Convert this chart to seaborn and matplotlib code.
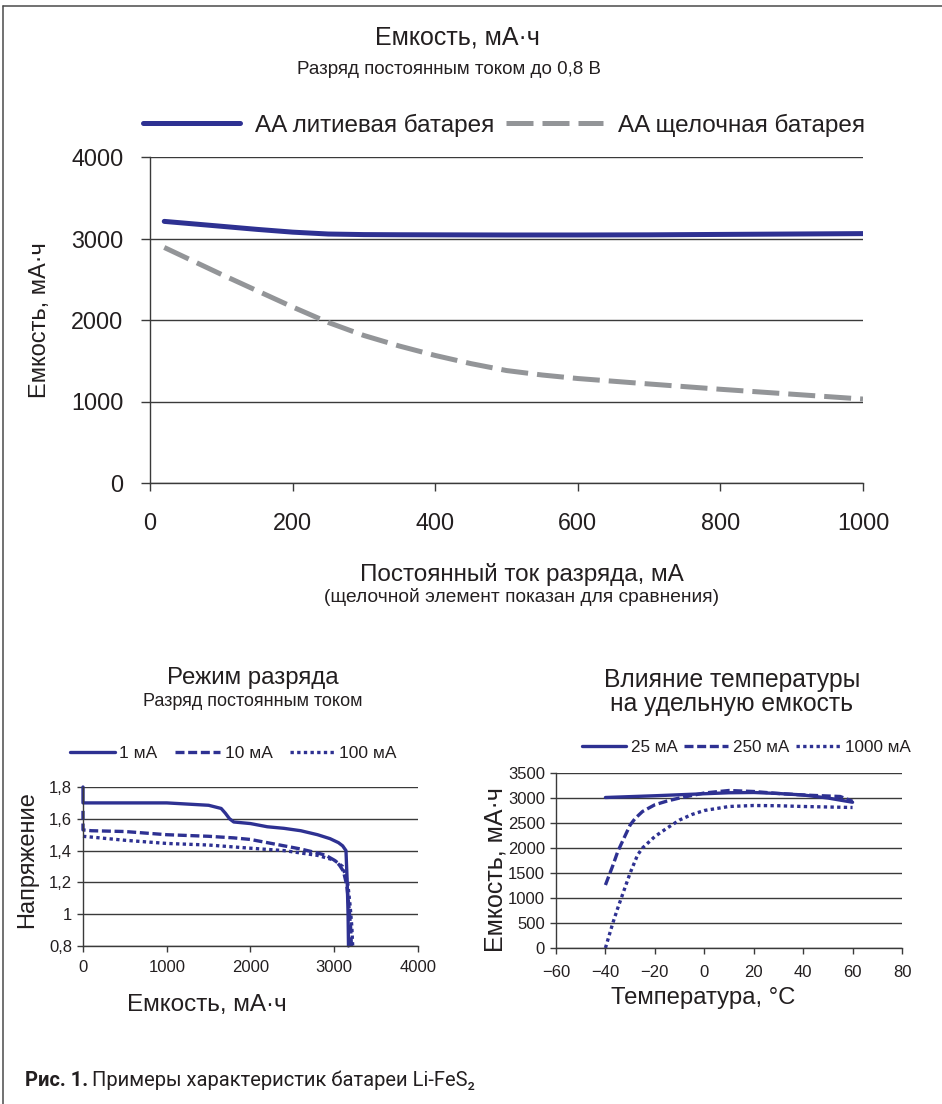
import matplotlib
matplotlib.use("Agg")
import matplotlib.pyplot as plt
from matplotlib.lines import Line2D
import seaborn as sns

# --- top chart: capacity vs. constant discharge current ---
current_ma = [20, 100, 150, 200, 250, 300, 350, 400, 450, 500, 550, 600, 700, 800, 900, 1000]
lithium_mah = [3210, 3150, 3112, 3078, 3055, 3048, 3046, 3045, 3044, 3043, 3043, 3043,
               3045, 3050, 3055, 3060]
alkaline_mah = [2890, 2560, 2360, 2160, 1970, 1810, 1680, 1565, 1465, 1380, 1325, 1282,
                1215, 1150, 1090, 1030]
top_names = ["AA литиевая батарея", "AA щелочная батарея"]

# --- bottom left: discharge curves (voltage vs capacity) ---
cap_1ma = [0, 0, 200, 600, 1000, 1500, 1650, 1700, 1750, 1800, 2000, 2200, 2400,
           2600, 2800, 2950, 3050, 3100, 3140, 3155, 3165, 3170]
volt_1ma = [1.80, 1.70, 1.70, 1.70, 1.70, 1.685, 1.665, 1.635, 1.60, 1.58, 1.57, 1.55,
            1.54, 1.525, 1.50, 1.475, 1.45, 1.43, 1.40, 1.20, 1.00, 0.80]
cap_10ma = [0, 0, 100, 500, 1000, 1500, 1800, 2000, 2200, 2400, 2600, 2800, 2900,
            3000, 3060, 3110, 3150, 3175, 3195, 3205]
volt_10ma = [1.65, 1.53, 1.525, 1.52, 1.50, 1.49, 1.48, 1.47, 1.45, 1.43, 1.41, 1.385,
             1.37, 1.34, 1.31, 1.27, 1.18, 1.05, 0.92, 0.80]
cap_100ma = [0, 100, 500, 1000, 1500, 2000, 2400, 2800, 3000, 3100, 3160, 3190, 3210, 3220]
volt_100ma = [1.49, 1.485, 1.465, 1.445, 1.435, 1.415, 1.40, 1.37, 1.34, 1.30, 1.20,
              1.05, 0.92, 0.80]
volt_ticks = [0.8, 1.0, 1.2, 1.4, 1.6, 1.8]
volt_labels = ["0,8", "1", "1,2", "1,4", "1,6", "1,8"]
left_names = ["1 мА", "10 мА", "100 мА"]

# --- bottom right: capacity vs temperature ---
temp_25 = [-40, -20, 0, 10, 20, 30, 40, 50, 60]
cap_25 = [3010, 3045, 3085, 3105, 3110, 3090, 3060, 3000, 2915]
temp_250 = [-40, -37, -35, -32, -30, -28, -25, -20, -15, -10, 0, 10, 20, 30, 40, 50, 55, 60]
cap_250 = [1260, 1650, 1930, 2250, 2460, 2590, 2730, 2865, 2940, 3000, 3100, 3150, 3130,
           3090, 3060, 3040, 3030, 2935]
temp_1000 = [-40, -37, -35, -33, -30, -27, -25, -20, -15, -10, -5, 0, 10, 20, 30, 40, 50, 60]
cap_1000 = [0, 500, 800, 1080, 1500, 1860, 2000, 2230, 2400, 2560, 2670, 2750, 2830, 2850,
            2845, 2830, 2820, 2810]
right_names = ["25 мА", "250 мА", "1000 мА"]

NAVY = "#2e3192"
GRAY = "#939598"
GRID = "#3a3a3a"
TEXT = "#231f20"

W, H = 942, 1104


def fx(x):
    return x / W


def fy(y):
    return 1 - y / H


def axes_px(fig, left, top, right, bottom):
    return fig.add_axes([fx(left), fy(bottom), (right - left) / W, (bottom - top) / H])


def style_axes(ax, labelsize, ylen, ypad, xlen, xpad):
    sns.despine(ax=ax)
    ax.grid(axis="y", color=GRID, lw=1.0)
    ax.grid(axis="x", visible=False)
    ax.spines["left"].set_color(GRID)
    ax.spines["bottom"].set_color(GRID)
    ax.spines["left"].set_linewidth(1.0)
    ax.spines["bottom"].set_linewidth(1.0)
    ax.tick_params(axis="y", length=ylen, pad=ypad, width=1.0, color=GRID,
                   labelsize=labelsize, labelcolor=TEXT)
    ax.tick_params(axis="x", length=xlen, pad=xpad, width=1.0, color=GRID,
                   labelsize=labelsize, labelcolor=TEXT)
    ax.set_xlabel("")
    ax.set_ylabel("")
    if ax.get_legend():
        ax.get_legend().remove()


sns.set_style("ticks")
plt.rcParams["font.family"] = ["Liberation Sans", "DejaVu Sans"]
plt.rcParams["text.color"] = TEXT

fig = plt.figure(figsize=(W / 100, H / 100), dpi=100)

# ---------------- top chart ----------------
ax1 = axes_px(fig, 150, 157, 863, 483)
sns.lineplot(x=current_ma, y=lithium_mah, ax=ax1, color=NAVY, lw=3.6,
             estimator=None, sort=False, label=top_names[0])
sns.lineplot(x=current_ma, y=alkaline_mah, ax=ax1, color=GRAY, lw=3.6,
             linestyle=(0, (5.4, 1.8)), estimator=None, sort=False, label=top_names[1])
ax1.set_xlim(0, 1000)
ax1.set_ylim(0, 4000)
ax1.set_xticks(range(0, 1001, 200))
ax1.set_yticks(range(0, 4001, 1000))
style_axes(ax1, 16.8, 6.5, 12.5, 6, 15)
h, l = ax1.get_legend_handles_labels()
fig.legend(h, l, loc="center left", bbox_to_anchor=(fx(143), fy(125)), ncol=2,
           frameon=False, fontsize=17.5, handlelength=4.0, handletextpad=0.6,
           columnspacing=0.5, borderpad=0, borderaxespad=0)

fig.text(fx(457), fy(37), "Емкость, мА·ч", ha="center", va="center", fontsize=18)
fig.text(fx(449), fy(70), "Разряд постоянным током до 0,8 В", ha="center",
         va="center", fontsize=13.5)
fig.text(fx(40), fy(320), "Емкость, мА·ч", ha="center", va="center", rotation=90,
         fontsize=17)
fig.text(fx(522), fy(575), "Постоянный ток разряда, мА", ha="center", va="center",
         fontsize=17.5)
fig.text(fx(522), fy(597), "(щелочной элемент показан для сравнения)", ha="center",
         va="center", fontsize=13.8)

# ---------------- bottom left ----------------
ax2 = axes_px(fig, 83, 787, 418, 946)
sns.lineplot(x=cap_1ma, y=volt_1ma, ax=ax2, color=NAVY, lw=2.4, estimator=None,
             sort=False, label=left_names[0], clip_on=False)
sns.lineplot(x=cap_10ma, y=volt_10ma, ax=ax2, color=NAVY, lw=2.4,
             linestyle=(0, (2.7, 1.1)), estimator=None, sort=False,
             label=left_names[1], clip_on=False)
sns.lineplot(x=cap_100ma, y=volt_100ma, ax=ax2, color=NAVY, lw=2.4,
             linestyle=(0, (1, 1)), estimator=None, sort=False,
             label=left_names[2], clip_on=False)
ax2.set_xlim(0, 4000)
ax2.set_ylim(0.8, 1.8)
ax2.set_xticks(range(0, 4001, 1000))
ax2.set_yticks(volt_ticks)
ax2.set_yticklabels(volt_labels)
style_axes(ax2, 12, 4, 4, 4, 6)
h, l = ax2.get_legend_handles_labels()
fig.legend(h, l, loc="center left", bbox_to_anchor=(fx(70), fy(753)), ncol=3,
           frameon=False, fontsize=12.5, handlelength=2.6, handletextpad=0.25,
           columnspacing=1.0, borderpad=0, borderaxespad=0)

fig.text(fx(253), fy(678), "Режим разряда", ha="center", va="center", fontsize=17.3)
fig.text(fx(253), fy(702), "Разряд постоянным током", ha="center", va="center",
         fontsize=13)
fig.text(fx(27), fy(860), "Напряжение", ha="center", va="center", rotation=90,
         fontsize=17)
fig.text(fx(207), fy(1005), "Емкость, мА·ч", ha="center", va="center", fontsize=17.5)

# ---------------- bottom right ----------------
ax3 = axes_px(fig, 556, 773, 902, 948)
sns.lineplot(x=temp_25, y=cap_25, ax=ax3, color=NAVY, lw=2.4, estimator=None,
             sort=False, label=right_names[0])
sns.lineplot(x=temp_250, y=cap_250, ax=ax3, color=NAVY, lw=2.4,
             linestyle=(0, (2.7, 1.1)), estimator=None, sort=False, label=right_names[1])
sns.lineplot(x=temp_1000, y=cap_1000, ax=ax3, color=NAVY, lw=2.4,
             linestyle=(0, (1, 1)), estimator=None, sort=False, label=right_names[2],
             clip_on=False)
ax3.set_xlim(-60, 80)
ax3.set_ylim(0, 3500)
ax3.set_xticks(range(-60, 81, 20))
ax3.set_yticks(range(0, 3501, 500))
style_axes(ax3, 12, 4, 4, 4, 8)
h, l = ax3.get_legend_handles_labels()
fig.legend(h, l, loc="center left", bbox_to_anchor=(fx(582), fy(747)), ncol=3,
           frameon=False, fontsize=12.3, handlelength=2.55, handletextpad=0.3,
           columnspacing=0.4, borderpad=0, borderaxespad=0)

fig.text(fx(732), fy(692), "Влияние температуры\nна удельную емкость", ha="center",
         va="center", fontsize=17.7, linespacing=1.05)
fig.text(fx(495), fy(870), "Емкость, мА·ч", ha="center", va="center", rotation=90,
         fontsize=18)
fig.text(fx(703), fy(998), "Температура, °C", ha="center", va="center", fontsize=17.2)

# ---------------- caption and frame ----------------
cap_font = ["Roboto", "DejaVu Sans"]
fig.text(fx(25), fy(1080), "Рис. 1.", ha="left", va="center", fontsize=14.5,
         weight="bold", family=cap_font)
fig.text(fx(92), fy(1080), "Примеры характеристик батареи Li-FeS₂", ha="left",
         va="center", fontsize=14.5, family=cap_font)

fig.add_artist(Line2D([fx(3), 1], [fy(6), fy(6)], transform=fig.transFigure,
                      color="#4a4a4a", lw=1.1))
fig.add_artist(Line2D([fx(3), fx(3)], [fy(6), 0], transform=fig.transFigure,
                      color="#4a4a4a", lw=1.1))

fig.savefig("out.png", dpi=100, facecolor="white")
